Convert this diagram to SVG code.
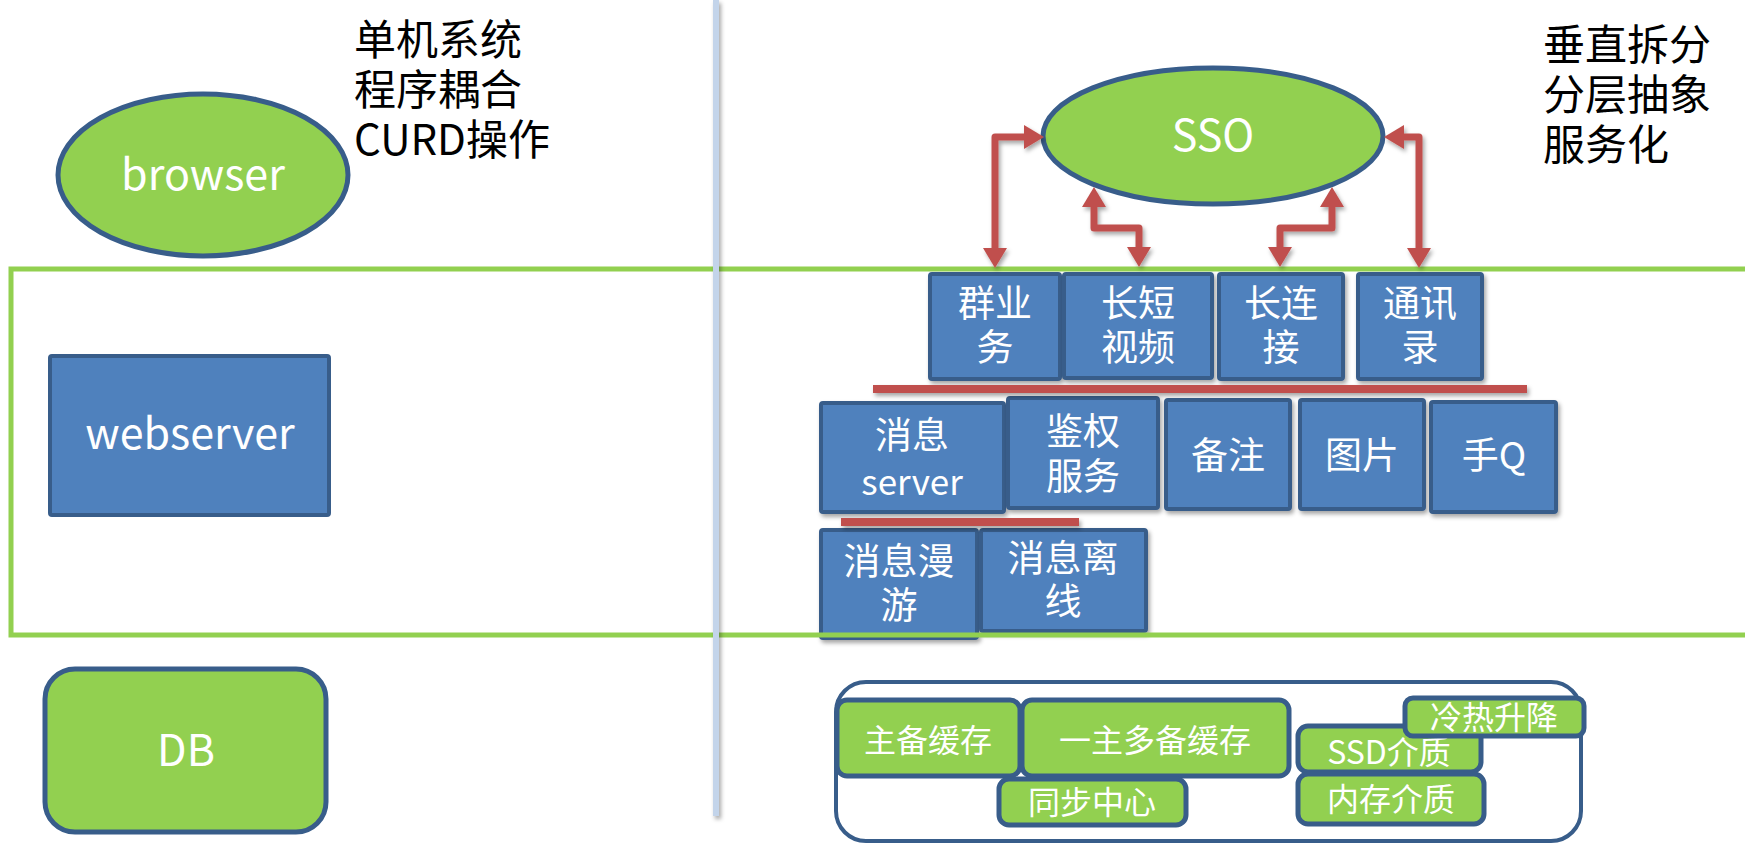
<svg xmlns="http://www.w3.org/2000/svg" width="1745" height="844" viewBox="0 0 1745 844">
<style>
.t{font-family:"Noto Sans CJK SC","Noto Sans",sans-serif;fill:#fff;text-anchor:middle}
.bk{font-family:"Noto Sans CJK SC","Noto Sans",sans-serif;fill:#000}
.blue{fill:#4f81bd;stroke:#385d8a;stroke-width:4}
.grn{fill:#92d050;stroke:#385d8a;stroke-width:5}
.gs{fill:#92d050;stroke:#385d8a;stroke-width:5}
.f43{font-size:43px}
.f37{font-size:37px}
.f35{font-size:35px}
.f32{font-size:32px}
.f42{font-size:42px}
.arr{fill:none;stroke:#c0504d;stroke-width:7;stroke-linejoin:round}
.red{fill:#c0504d}
</style>
<defs>
<filter id="sh" filterUnits="userSpaceOnUse" x="0" y="0" width="1745" height="844">
<feDropShadow dx="2" dy="3" stdDeviation="2" flood-color="#000" flood-opacity="0.35"/>
</filter>
<marker id="ah" viewBox="0 0 20 24" refX="0" refY="12" markerWidth="20" markerHeight="24" markerUnits="userSpaceOnUse" orient="auto-start-reverse">
<path d="M0,0 L20,12 L0,24 Z" fill="#c0504d"/>
</marker>
</defs>
<rect width="1745" height="844" fill="#fff"/>

<g id="text-left">
<text class="bk f42" x="354" y="55">单机系统</text>
<text class="bk f42" x="354" y="105">程序耦合</text>
<text class="bk f42" x="354" y="155">CURD操作</text>
</g>
<g id="text-right">
<text class="bk f42" x="1543" y="60">垂直拆分</text>
<text class="bk f42" x="1543" y="110">分层抽象</text>
<text class="bk f42" x="1543" y="160">服务化</text>
</g>

<g id="browser">
<ellipse class="grn" cx="203" cy="175" rx="145" ry="81"/>
<text class="t f43" x="203" y="190">browser</text>
</g>
<g id="webserver">
<rect class="blue" x="50" y="356" width="279" height="159" rx="2"/>
<text class="t f43" x="190" y="449">webserver</text>
</g>
<g id="db">
<rect class="grn" x="45" y="669" width="281" height="163" rx="30"/>
<text class="t f43" x="186" y="766">DB</text>
</g>

<g id="sso">
<ellipse class="grn" cx="1213" cy="136" rx="170" ry="68"/>
<text class="t f43" x="1213" y="151">SSO</text>
</g>

<g id="n-qun">
<rect class="blue" x="930" y="274" width="130" height="105" rx="2" filter="url(#sh)"/>
<text class="t f37" x="995" y="317">群业</text>
<text class="t f37" x="995" y="361">务</text>
</g>
<g id="n-video">
<rect class="blue" x="1064" y="274" width="148" height="104" rx="2" filter="url(#sh)"/>
<text class="t f37" x="1138" y="317">长短</text>
<text class="t f37" x="1138" y="361">视频</text>
</g>
<g id="n-conn">
<rect class="blue" x="1219" y="274" width="124" height="105" rx="2" filter="url(#sh)"/>
<text class="t f37" x="1281" y="317">长连</text>
<text class="t f37" x="1281" y="361">接</text>
</g>
<g id="n-contacts">
<rect class="blue" x="1358" y="274" width="124" height="105" rx="2" filter="url(#sh)"/>
<text class="t f37" x="1420" y="317">通讯</text>
<text class="t f37" x="1420" y="361">录</text>
</g>

<g id="n-msgserver">
<rect class="blue" x="821" y="403" width="183" height="109" rx="2" filter="url(#sh)"/>
<text class="t f37" x="912" y="449">消息</text>
<text class="t f35" x="912" y="495">server</text>
</g>
<g id="n-auth">
<rect class="blue" x="1008" y="398" width="150" height="110" rx="2" filter="url(#sh)"/>
<text class="t f37" x="1083" y="445">鉴权</text>
<text class="t f37" x="1083" y="490">服务</text>
</g>
<g id="n-note">
<rect class="blue" x="1166" y="400" width="124" height="109" rx="2" filter="url(#sh)"/>
<text class="t f37" x="1228" y="469">备注</text>
</g>
<g id="n-pic">
<rect class="blue" x="1300" y="400" width="124" height="109" rx="2" filter="url(#sh)"/>
<text class="t f37" x="1362" y="469">图片</text>
</g>
<g id="n-shouq">
<rect class="blue" x="1431" y="402" width="125" height="110" rx="2" filter="url(#sh)"/>
<text class="t f37" x="1494" y="469">手Q</text>
</g>

<g id="n-roam">
<rect class="blue" x="821" y="530" width="156" height="108" rx="2" filter="url(#sh)"/>
<text class="t f37" x="899" y="575">消息漫</text>
<text class="t f37" x="899" y="619">游</text>
</g>
<g id="n-offline">
<rect class="blue" x="981" y="530" width="165" height="101" rx="2" filter="url(#sh)"/>
<text class="t f37" x="1063" y="572">消息离</text>
<text class="t f37" x="1063" y="615">线</text>
</g>

<g id="separators" filter="url(#sh)">
<rect class="red" x="873" y="385" width="654" height="8"/>
<rect class="red" x="841" y="518" width="238" height="8"/>
</g>

<g id="layer">
<rect x="11" y="269" width="1760" height="366" fill="none" stroke="#92d050" stroke-width="5"/>
</g>

<g id="storage">
<rect x="836" y="682" width="745" height="159" rx="30" fill="#fff" stroke="#385d8a" stroke-width="4"/>
<g id="s-main">
<rect class="gs" x="837" y="700" width="183" height="76" rx="10"/>
<text class="t f32" x="928" y="752">主备缓存</text>
</g>
<g id="s-multi">
<rect class="gs" x="1022" y="700" width="267" height="76" rx="10"/>
<text class="t f32" x="1155" y="752">一主多备缓存</text>
</g>
<g id="s-sync">
<rect class="gs" x="999" y="779" width="187" height="46" rx="10"/>
<text class="t f32" x="1092" y="814">同步中心</text>
</g>
<g id="s-ssd">
<rect class="gs" x="1298" y="726" width="183" height="46" rx="10"/>
<text class="t f32" x="1389" y="764">SSD介质</text>
</g>
<g id="s-mem">
<rect class="gs" x="1298" y="774" width="186" height="50" rx="10"/>
<text class="t f32" x="1391" y="811">内存介质</text>
</g>
<g id="s-hot">
<rect class="gs" x="1405" y="698" width="179" height="38" rx="8"/>
<text class="t f32" x="1494" y="729">冷热升降</text>
</g>
</g>

<g id="divider" filter="url(#sh)">
<rect x="713" y="0" width="6" height="816" fill="#c3d4ea"/>
</g>

<g id="connectors" filter="url(#sh)">
<path class="arr" d="M995,248 L995,137 L1024,137" marker-start="url(#ah)" marker-end="url(#ah)"/>
<path class="arr" d="M1139,247 L1139,228 L1094,228 L1094,207" marker-start="url(#ah)" marker-end="url(#ah)"/>
<path class="arr" d="M1280,247 L1280,228 L1332,228 L1332,207" marker-start="url(#ah)" marker-end="url(#ah)"/>
<path class="arr" d="M1419,248 L1419,137 L1404,137" marker-start="url(#ah)" marker-end="url(#ah)"/>
</g>
</svg>
